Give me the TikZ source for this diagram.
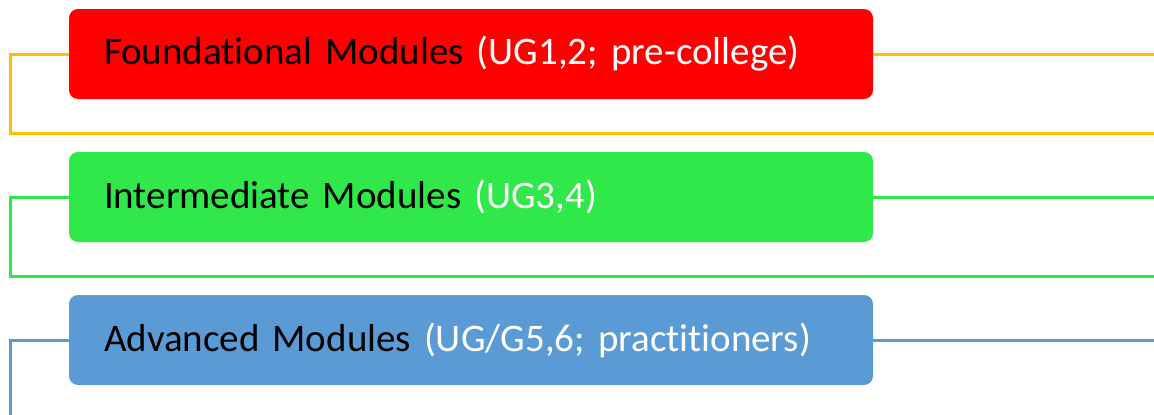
\documentclass[tikz,border=0pt]{standalone}
\usepackage{fontspec}
\setmainfont{Carlito}[Ligatures=NoCommon,WordSpace=0.85]
\definecolor{lvlorange}{HTML}{FFC000}
\definecolor{lvlred}{HTML}{FF0000}
\definecolor{lvlgreen}{HTML}{31E84B}
\definecolor{lvlblue}{HTML}{5B9BD5}
\begin{document}
\begin{tikzpicture}[x=1pt,y=-1pt,
        modbox/.style={draw=none,rounded corners=9pt,anchor=west,minimum width=804pt,minimum height=90pt,
            text width=734pt,align=left,inner xsep=35pt,inner ysep=0pt,font=\fontsize{39}{44}\selectfont,
            outer sep=0pt},
        link/.style={line width=3pt}]
                \useasboundingbox (0,0) rectangle (1154,415);
                \node[modbox,fill=lvlred] (found) at (69,54) {Foundational Modules \textcolor{white}{(UG1,2; pre-college)}};
                \node[modbox,fill=lvlgreen] (inter) at (69,197) {Intermediate Modules \textcolor{white}{(UG3,4)}};
                \node[modbox,fill=lvlblue] (adv) at (69,340) {Advanced Modules \textcolor{white}{(UG/G5,6; practitioners)}};
                \coordinate (foundlow) at (10,133);
                \coordinate (foundend) at (1154,133);
                \coordinate (interlow) at (10,276);
                \coordinate (interend) at (1154,276);
                \coordinate (advlow) at (10,415);
                \coordinate (rightside) at (1154,0);
                \draw[link,lvlorange] (found.west) -- ++(-3,0) -| (foundlow) -- (foundend);
                \draw[link,lvlorange] (found.east) -- (found.east -| rightside);
                \draw[link,lvlgreen] (inter.west) -- ++(-3,0) -| (interlow) -- (interend);
                \draw[link,lvlgreen] (inter.east) -- (inter.east -| rightside);
                \draw[link,lvlblue] (adv.west) -- ++(-3,0) -| (advlow);
                \draw[link,lvlblue] (adv.east) -- (adv.east -| rightside);
            \end{tikzpicture}
\end{document}
